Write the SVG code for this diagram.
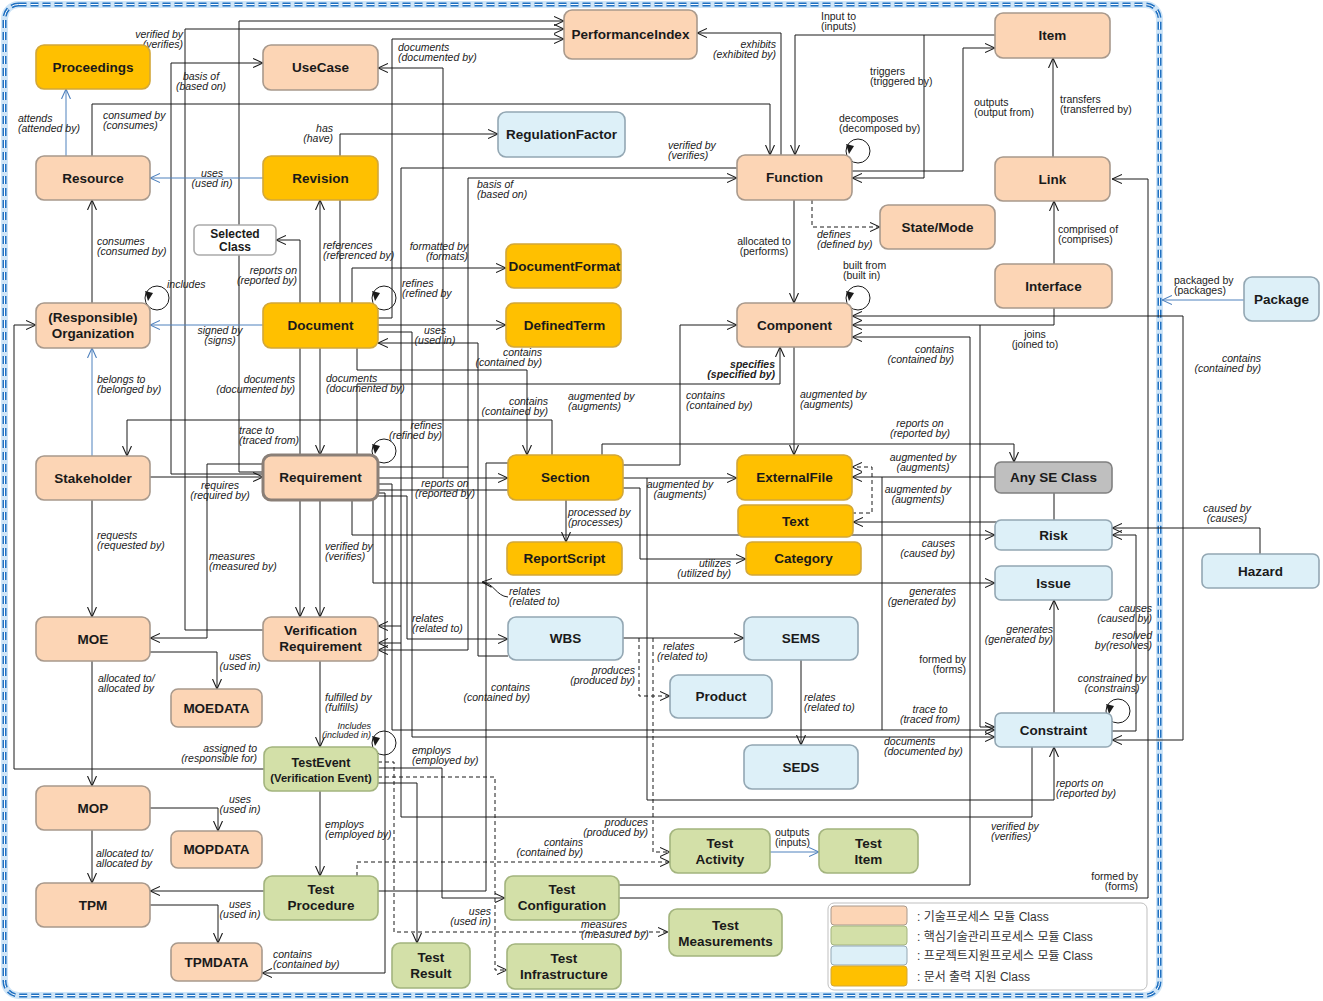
<svg xmlns="http://www.w3.org/2000/svg" width="1323" height="1001" viewBox="0 0 1323 1001">
<defs>
<marker id="a" viewBox="0 0 10 10" refX="10" refY="5" markerWidth="10" markerHeight="10" markerUnits="userSpaceOnUse" orient="auto-start-reverse"><path d="M0,0.5 L10,5 L0,9.5" fill="none" stroke="#1a1a1a" stroke-width="1.1"/></marker>
<marker id="ab" viewBox="0 0 10 10" refX="10" refY="5" markerWidth="10" markerHeight="10" markerUnits="userSpaceOnUse" orient="auto-start-reverse"><path d="M0,0.5 L10,5 L0,9.5" fill="none" stroke="#4F81BD" stroke-width="1.1"/></marker>
<style>
.c{fill:none;stroke:#1a1a1a;stroke-width:1}
.d{stroke-dasharray:4 3}
.b{stroke:#4F81BD}
.loop{fill:none;stroke:#1a1a1a;stroke-width:1}
.tri{fill:#1a1a1a}
.l{font-family:"Liberation Sans",Arial,sans-serif;font-size:10.5px;font-style:italic;fill:#222}
.ln{font-family:"Liberation Sans",Arial,sans-serif;font-size:10.5px;fill:#222}
.n rect{stroke-width:1.6}
.p rect{fill:#FCD5B5;stroke:#A8998C}
.g rect{fill:#FFC000;stroke:#D2A739}
.bl rect{fill:#DDF0F8;stroke:#93A7B3}
.gr rect{fill:#D3E0A8;stroke:#A3B47E}
.gy rect{fill:#BFBFBF;stroke:#808080}
.w rect{fill:#FFFFFF;stroke:#AAAAAA}
.n text{font-family:"Liberation Sans",Arial,sans-serif;font-weight:bold;font-size:13.5px;fill:#1a1a1a;text-anchor:middle}
.lg{font-family:"Liberation Sans","Noto Sans CJK KR",sans-serif;font-size:12px;fill:#333}
</style>
</defs>
<rect x="0" y="0" width="1323" height="1001" fill="#FFFFFF"/>
<g id="frame">
<rect x="4.5" y="4.5" width="1155" height="991" rx="14" fill="none" stroke="#CFE5F7" stroke-width="7"/>
<rect x="4.5" y="4.5" width="1155" height="991" rx="14" fill="none" stroke="#1F70C1" stroke-width="4" stroke-dasharray="8 4"/>
<rect x="4.5" y="4.5" width="1155" height="991" rx="14" fill="none" stroke="#FFFFFF" stroke-width="1" stroke-dasharray="8 4"/>
</g>
<g id="connectors">
<path class="c" d="M263,472H239V21H564" marker-end="url(#a)"/>
<path class="c" d="M263,630H185V29H564" marker-end="url(#a)"/>
<path class="c" d="M378,318H392V39H564" marker-end="url(#a)"/>
<path class="c" d="M443,478V68H378" marker-end="url(#a)"/>
<path class="c" d="M263,474H171V63H263" marker-end="url(#a)"/>
<path class="c" d="M92,156V104H770V155" marker-end="url(#a)"/>
<path class="c" d="M781,155V33H697" marker-end="url(#a)"/>
<path class="c" d="M995,35H795V155" marker-end="url(#a)"/>
<path class="c" d="M924,35V178H852" marker-end="url(#a)"/>
<path class="c" d="M852,171H963V48H995" marker-end="url(#a)"/>
<path class="c" d="M1053,157V58" marker-end="url(#a)"/>
<path class="c" d="M794,200V303" marker-end="url(#a)"/>
<path class="c d" d="M812,200V227H880" marker-end="url(#a)"/>
<path class="c" d="M1054,264V201" marker-end="url(#a)"/>
<path class="c" d="M1054,308V325H852" marker-end="url(#a)"/>
<path class="c" d="M1112,740H1183V316H852" marker-start="url(#a)" marker-end="url(#a)"/>
<path class="c" d="M619,898H1148V179H1112" marker-end="url(#a)"/>
<path class="c" d="M619,885H970V337H852" marker-end="url(#a)"/>
<path class="c" d="M980,325V727H995" marker-end="url(#a)"/>
<path class="c" d="M602,455V444H1014V462" marker-end="url(#a)"/>
<path class="c" d="M995,477H852" marker-end="url(#a)"/>
<path class="c d" d="M852,513H872V467H852" marker-end="url(#a)"/>
<path class="c" d="M1054,493V522H853" marker-end="url(#a)"/>
<path class="c" d="M352,500V535H995" marker-end="url(#a)"/>
<path class="c" d="M373,500V583H995" marker-end="url(#a)"/>
<path class="c" d="M1054,713V600" marker-end="url(#a)"/>
<path class="c" d="M1260,554V528H1112" marker-end="url(#a)"/>
<path class="c" d="M1112,731H1136V535H1112" marker-end="url(#a)"/>
<path class="c" d="M378,484H392V730H995" marker-end="url(#a)"/>
<path class="c" d="M378,332H412V737H995" marker-end="url(#a)"/>
<path class="c" d="M647,478V800H1054V747" marker-end="url(#a)"/>
<path class="c" d="M737,168H401V817H1032V747"/>
<path class="c" d="M401,626H378" marker-end="url(#a)"/>
<path class="c" d="M401,643H378" marker-end="url(#a)"/>
<path class="c" d="M378,650H468V178H737" marker-start="url(#a)" marker-end="url(#a)"/>
<path class="c" d="M378,467H468"/>
<path class="c" d="M508,656H478V343H378" marker-end="url(#a)"/>
<path class="c" d="M378,891H486V463H508"/>
<path class="c" d="M378,325H506" marker-end="url(#a)"/>
<path class="c" d="M352,303V268H506" marker-end="url(#a)"/>
<path class="c" d="M340,303V134H498" marker-end="url(#a)"/>
<path class="c" d="M320,303V200" marker-end="url(#a)"/>
<path class="c" d="M300,303V240H276" marker-end="url(#a)"/>
<path class="c" d="M357,348V370H527V455" marker-end="url(#a)"/>
<path class="c" d="M357,455V384H780V347" marker-end="url(#a)"/>
<path class="c" d="M320,348V455" marker-end="url(#a)"/>
<path class="c" d="M300,348V455"/>
<path class="c" d="M552,455V420H127V456" marker-end="url(#a)"/>
<path class="c" d="M263,464H207V638H150" marker-end="url(#a)"/>
<path class="c" d="M150,477H263" marker-end="url(#a)"/>
<path class="c" d="M92,500V617" marker-end="url(#a)"/>
<path class="c" d="M378,478H508" marker-end="url(#a)"/>
<path class="c" d="M378,490H508"/>
<path class="c" d="M566,500V542" marker-end="url(#a)"/>
<path class="c" d="M623,488H640V559H746" marker-end="url(#a)"/>
<path class="c" d="M623,465H680V325H737" marker-end="url(#a)"/>
<path class="c" d="M794,347V455" marker-end="url(#a)"/>
<path class="c" d="M623,478H737" marker-end="url(#a)"/>
<path class="c" d="M623,638H744" marker-end="url(#a)"/>
<path class="c d" d="M639,638V696H670" marker-end="url(#a)"/>
<path class="c d" d="M653,638V852H670" marker-end="url(#a)"/>
<path class="c" d="M801,660V745" marker-end="url(#a)"/>
<path class="c b" d="M770,852H819" marker-end="url(#ab)"/>
<path class="c" d="M378,768H442V898H505" marker-end="url(#a)"/>
<path class="c d" d="M378,777H495V970H507" marker-end="url(#a)"/>
<path class="c d" d="M378,762H394V932H668" marker-end="url(#a)"/>
<path class="c d" d="M357,876V862H670" marker-end="url(#a)"/>
<path class="c" d="M378,783H417V943" marker-end="url(#a)"/>
<path class="c" d="M320,791V876" marker-end="url(#a)"/>
<path class="c" d="M320,661V747" marker-end="url(#a)"/>
<path class="c" d="M300,500V617" marker-end="url(#a)"/>
<path class="c" d="M320,500V617" marker-end="url(#a)"/>
<path class="c" d="M264,891H150" marker-end="url(#a)"/>
<path class="c" d="M150,905H218V943" marker-end="url(#a)"/>
<path class="c" d="M150,808H218V831" marker-end="url(#a)"/>
<path class="c" d="M150,652H217V689" marker-end="url(#a)"/>
<path class="c" d="M92,661V786" marker-end="url(#a)"/>
<path class="c" d="M92,830V883" marker-end="url(#a)"/>
<path class="c" d="M264,769H14V325H36" marker-end="url(#a)"/>
<path class="c" d="M92,303V200" marker-end="url(#a)"/>
<path class="c b" d="M66,156V89" marker-end="url(#ab)"/>
<path class="c b" d="M263,178H150" marker-end="url(#ab)"/>
<path class="c b" d="M263,325H150" marker-end="url(#ab)"/>
<path class="c b" d="M92,456V348" marker-end="url(#ab)"/>
<path class="c b" d="M1244,300H1162" marker-end="url(#ab)"/>
<path class="c" d="M378,493H385V973H262" marker-end="url(#a)"/>
<path class="c" d="M378,496H407V639H508" marker-end="url(#a)"/>
<path class="c" d="M882,477V730"/>
<path class="c" d="M508,597C496,596 494,583 482,582" marker-end="url(#a)"/>
<circle class="loop" cx="157" cy="298" r="12"/><polygon class="tri" points="145,291 153,293 148,301"/>
<circle class="loop" cx="384" cy="298" r="12"/><polygon class="tri" points="372,291 380,293 375,301"/>
<circle class="loop" cx="858" cy="151" r="12"/><polygon class="tri" points="846,144 854,146 849,154"/>
<circle class="loop" cx="858" cy="298" r="12"/><polygon class="tri" points="846,291 854,293 849,301"/>
<circle class="loop" cx="384" cy="451" r="12"/><polygon class="tri" points="372,444 380,446 375,454"/>
<circle class="loop" cx="1118" cy="711" r="12"/><polygon class="tri" points="1106,704 1114,706 1109,714"/>
<circle class="loop" cx="384" cy="743" r="12"/><polygon class="tri" points="372,736 380,738 375,746"/>
</g>
<g id="labels">
<text class="l" x="183" y="38" text-anchor="end"><tspan x="183">verified by</tspan><tspan x="183" dy="10">(verifies)</tspan></text>
<text class="l" x="201" y="80" text-anchor="middle"><tspan x="201">basis of</tspan><tspan x="201" dy="10">(based on)</tspan></text>
<text class="l" x="18" y="122"><tspan x="18">attends</tspan><tspan x="18" dy="10">(attended by)</tspan></text>
<text class="l" x="103" y="119"><tspan x="103">consumed by</tspan><tspan x="103" dy="10">(consumes)</tspan></text>
<text class="l" x="333" y="132" text-anchor="end"><tspan x="333">has</tspan><tspan x="333" dy="10">(have)</tspan></text>
<text class="l" x="212" y="177" text-anchor="middle"><tspan x="212">uses</tspan><tspan x="212" dy="10">(used in)</tspan></text>
<text class="l" x="323" y="249"><tspan x="323">references</tspan><tspan x="323" dy="10">(referenced by)</tspan></text>
<text class="l" x="297" y="274" text-anchor="end"><tspan x="297">reports on</tspan><tspan x="297" dy="10">(reported by)</tspan></text>
<text class="l" x="97" y="245"><tspan x="97">consumes</tspan><tspan x="97" dy="10">(consumed by)</tspan></text>
<text class="l" x="167" y="288">includes</text>
<text class="l" x="468" y="250" text-anchor="end"><tspan x="468">formatted by</tspan><tspan x="468" dy="10">(formats)</tspan></text>
<text class="l" x="402" y="287"><tspan x="402">refines</tspan><tspan x="402" dy="10">(refined by</tspan></text>
<text class="l" x="220" y="334" text-anchor="middle"><tspan x="220">signed by</tspan><tspan x="220" dy="10">(signs)</tspan></text>
<text class="l" x="435" y="334" text-anchor="middle"><tspan x="435">uses</tspan><tspan x="435" dy="10">(used in)</tspan></text>
<text class="l" x="542" y="356" text-anchor="end"><tspan x="542">contains</tspan><tspan x="542" dy="10">(contained by)</tspan></text>
<text class="l" x="548" y="405" text-anchor="end"><tspan x="548">contains</tspan><tspan x="548" dy="10">(contained by)</tspan></text>
<text class="l" x="568" y="400"><tspan x="568">augmented by</tspan><tspan x="568" dy="10">(augments)</tspan></text>
<text class="l" x="686" y="399"><tspan x="686">contains</tspan><tspan x="686" dy="10">(contained by)</tspan></text>
<text class="l" x="775" y="368" text-anchor="end" style="font-weight:bold"><tspan x="775">specifies</tspan><tspan x="775" dy="10">(specified by)</tspan></text>
<text class="l" x="800" y="398"><tspan x="800">augmented by</tspan><tspan x="800" dy="10">(augments)</tspan></text>
<text class="l" x="97" y="383"><tspan x="97">belongs to</tspan><tspan x="97" dy="10">(belonged by)</tspan></text>
<text class="l" x="295" y="383" text-anchor="end"><tspan x="295">documents</tspan><tspan x="295" dy="10">(documented by)</tspan></text>
<text class="l" x="326" y="382"><tspan x="326">documents</tspan><tspan x="326" dy="10">(documented by)</tspan></text>
<text class="l" x="239" y="434"><tspan x="239">trace to</tspan><tspan x="239" dy="10">(traced from)</tspan></text>
<text class="l" x="442" y="429" text-anchor="end"><tspan x="442">refines</tspan><tspan x="442" dy="10">(refined by)</tspan></text>
<text class="l" x="220" y="489" text-anchor="middle"><tspan x="220">requires</tspan><tspan x="220" dy="10">(required by)</tspan></text>
<text class="l" x="445" y="487" text-anchor="middle"><tspan x="445">reports on</tspan><tspan x="445" dy="10">(reported by)</tspan></text>
<text class="l" x="97" y="539"><tspan x="97">requests</tspan><tspan x="97" dy="10">(requested by)</tspan></text>
<text class="l" x="209" y="560"><tspan x="209">measures</tspan><tspan x="209" dy="10">(measured by)</tspan></text>
<text class="l" x="325" y="550"><tspan x="325">verified by</tspan><tspan x="325" dy="10">(verifies)</tspan></text>
<text class="l" x="568" y="516"><tspan x="568">processed by</tspan><tspan x="568" dy="10">(processes)</tspan></text>
<text class="l" x="680" y="488" text-anchor="middle"><tspan x="680">augmented by</tspan><tspan x="680" dy="10">(augments)</tspan></text>
<text class="l" x="731" y="567" text-anchor="end"><tspan x="731">utilizes</tspan><tspan x="731" dy="10">(utilized by)</tspan></text>
<text class="l" x="509" y="595"><tspan x="509">relates</tspan><tspan x="509" dy="10">(related to)</tspan></text>
<text class="l" x="412" y="622"><tspan x="412">relates</tspan><tspan x="412" dy="10">(related to)</tspan></text>
<text class="l" x="657" y="650"><tspan x="663">relates</tspan><tspan x="657" dy="10">(related to)</tspan></text>
<text class="l" x="635" y="674" text-anchor="end"><tspan x="635">produces</tspan><tspan x="635" dy="10">(produced by)</tspan></text>
<text class="l" x="804" y="701"><tspan x="804">relates</tspan><tspan x="804" dy="10">(related to)</tspan></text>
<text class="l" x="530" y="691" text-anchor="end"><tspan x="530">contains</tspan><tspan x="530" dy="10">(contained by)</tspan></text>
<text class="l" x="240" y="660" text-anchor="middle"><tspan x="240">uses</tspan><tspan x="240" dy="10">(used in)</tspan></text>
<text class="l" x="98" y="682"><tspan x="98">allocated to/</tspan><tspan x="98" dy="10">allocated by</tspan></text>
<text class="l" x="325" y="701"><tspan x="325">fulfilled by</tspan><tspan x="325" dy="10">(fulfills)</tspan></text>
<text class="l" x="371" y="729" text-anchor="end" style="font-size:9px"><tspan x="371">Includes</tspan><tspan x="371" dy="9">(included in)</tspan></text>
<text class="l" x="257" y="752" text-anchor="end"><tspan x="257">assigned to</tspan><tspan x="257" dy="10">(responsible for)</tspan></text>
<text class="l" x="412" y="754"><tspan x="412">employs</tspan><tspan x="412" dy="10">(employed by)</tspan></text>
<text class="l" x="240" y="803" text-anchor="middle"><tspan x="240">uses</tspan><tspan x="240" dy="10">(used in)</tspan></text>
<text class="l" x="96" y="857"><tspan x="96">allocated to/</tspan><tspan x="96" dy="10">allocated by</tspan></text>
<text class="l" x="325" y="828"><tspan x="325">employs</tspan><tspan x="325" dy="10">(employed by)</tspan></text>
<text class="l" x="240" y="908" text-anchor="middle"><tspan x="240">uses</tspan><tspan x="240" dy="10">(used in)</tspan></text>
<text class="l" x="273" y="958"><tspan x="273">contains</tspan><tspan x="273" dy="10">(contained by)</tspan></text>
<text class="l" x="648" y="826" text-anchor="end"><tspan x="648">produces</tspan><tspan x="648" dy="10">(produced by)</tspan></text>
<text class="l" x="583" y="846" text-anchor="end"><tspan x="583">contains</tspan><tspan x="583" dy="10">(contained by)</tspan></text>
<text class="ln" x="775" y="836"><tspan x="775">outputs</tspan><tspan x="775" dy="10">(inputs)</tspan></text>
<text class="l" x="491" y="915" text-anchor="end"><tspan x="491">uses</tspan><tspan x="491" dy="10">(used in)</tspan></text>
<text class="l" x="581" y="928"><tspan x="581">measures</tspan><tspan x="581" dy="10">(measured by)</tspan></text>
<text class="l" x="920" y="427" text-anchor="middle"><tspan x="920">reports on</tspan><tspan x="920" dy="10">(reported by)</tspan></text>
<text class="l" x="923" y="461" text-anchor="middle"><tspan x="923">augmented by</tspan><tspan x="923" dy="10">(augments)</tspan></text>
<text class="l" x="918" y="493" text-anchor="middle"><tspan x="918">augmented by</tspan><tspan x="918" dy="10">(augments)</tspan></text>
<text class="l" x="955" y="547" text-anchor="end"><tspan x="955">causes</tspan><tspan x="955" dy="10">(caused by)</tspan></text>
<text class="l" x="956" y="595" text-anchor="end"><tspan x="956">generates</tspan><tspan x="956" dy="10">(generated by)</tspan></text>
<text class="l" x="1053" y="633" text-anchor="end"><tspan x="1053">generates</tspan><tspan x="1053" dy="10">(generated by)</tspan></text>
<text class="l" x="1227" y="512" text-anchor="middle"><tspan x="1227">caused  by</tspan><tspan x="1227" dy="10">(causes)</tspan></text>
<text class="l" x="1152" y="612" text-anchor="end"><tspan x="1152">causes</tspan><tspan x="1152" dy="10">(caused by)</tspan></text>
<text class="l" x="1152" y="639" text-anchor="end"><tspan x="1152">resolved</tspan><tspan x="1152" dy="10">by(resolves)</tspan></text>
<text class="ln" x="966" y="663" text-anchor="end"><tspan x="966">formed by</tspan><tspan x="966" dy="10">(forms)</tspan></text>
<text class="l" x="1112" y="682" text-anchor="middle"><tspan x="1112">constrained by</tspan><tspan x="1112" dy="10">(constrains)</tspan></text>
<text class="l" x="930" y="713" text-anchor="middle"><tspan x="930">trace to</tspan><tspan x="930" dy="10">(traced from)</tspan></text>
<text class="l" x="884" y="745"><tspan x="884">documents</tspan><tspan x="884" dy="10">(documented by)</tspan></text>
<text class="l" x="1056" y="787"><tspan x="1056">reports on</tspan><tspan x="1056" dy="10">(reported by)</tspan></text>
<text class="l" x="991" y="830"><tspan x="991">verified by</tspan><tspan x="991" dy="10">(verifies)</tspan></text>
<text class="ln" x="1138" y="880" text-anchor="end"><tspan x="1138">formed by</tspan><tspan x="1138" dy="10">(forms)</tspan></text>
<text class="l" x="954" y="353" text-anchor="end"><tspan x="954">contains</tspan><tspan x="954" dy="10">(contained by)</tspan></text>
<text class="l" x="1261" y="362" text-anchor="end"><tspan x="1261">contains</tspan><tspan x="1261" dy="10">(contained by)</tspan></text>
<text class="ln" x="1035" y="338" text-anchor="middle"><tspan x="1035">joins</tspan><tspan x="1035" dy="10">(joined to)</tspan></text>
<text class="ln" x="1174" y="284"><tspan x="1174">packaged by</tspan><tspan x="1174" dy="10">(packages)</tspan></text>
<text class="ln" x="1058" y="233"><tspan x="1058">comprised of</tspan><tspan x="1058" dy="10">(comprises)</tspan></text>
<text class="ln" x="1060" y="103"><tspan x="1060">transfers</tspan><tspan x="1060" dy="10">(transferred by)</tspan></text>
<text class="ln" x="974" y="106"><tspan x="974">outputs</tspan><tspan x="974" dy="10">(output from)</tspan></text>
<text class="ln" x="870" y="75"><tspan x="870">triggers</tspan><tspan x="870" dy="10">(triggered by)</tspan></text>
<text class="ln" x="839" y="122"><tspan x="839">decomposes</tspan><tspan x="839" dy="10">(decomposed by)</tspan></text>
<text class="ln" x="821" y="20"><tspan x="821">Input to</tspan><tspan x="821" dy="10">(inputs)</tspan></text>
<text class="l" x="776" y="48" text-anchor="end"><tspan x="776">exhibits</tspan><tspan x="776" dy="10">(exhibited by)</tspan></text>
<text class="l" x="668" y="149"><tspan x="668">verified by</tspan><tspan x="668" dy="10">(verifies)</tspan></text>
<text class="l" x="477" y="188"><tspan x="477">basis of</tspan><tspan x="477" dy="10">(based on)</tspan></text>
<text class="ln" x="764" y="245" text-anchor="middle"><tspan x="764">allocated to</tspan><tspan x="764" dy="10">(performs)</tspan></text>
<text class="l" x="817" y="238"><tspan x="817">defines</tspan><tspan x="817" dy="10">(defined by)</tspan></text>
<text class="ln" x="843" y="269"><tspan x="843">built  from</tspan><tspan x="843" dy="10">(built in)</tspan></text>
<text class="l" x="398" y="51"><tspan x="398">documents</tspan><tspan x="398" dy="10">(documented by)</tspan></text>
</g>
<g id="n-proceedings" class="n g"><rect x="36" y="45" width="114" height="44" rx="8"/><text x="93" y="72">Proceedings</text></g>
<g id="n-usecase" class="n p"><rect x="263" y="45" width="115" height="45" rx="8"/><text x="320.5" y="72">UseCase</text></g>
<g id="n-performanceindex" class="n p"><rect x="564" y="10" width="133" height="49" rx="8"/><text x="630.5" y="39">PerformanceIndex</text></g>
<g id="n-item" class="n p"><rect x="995" y="13" width="115" height="45" rx="8"/><text x="1052.5" y="40">Item</text></g>
<g id="n-regulationfactor" class="n bl"><rect x="498" y="112" width="127" height="45" rx="8"/><text x="561.5" y="139">RegulationFactor</text></g>
<g id="n-resource" class="n p"><rect x="36" y="156" width="114" height="44" rx="8"/><text x="93" y="183">Resource</text></g>
<g id="n-revision" class="n g"><rect x="263" y="156" width="115" height="44" rx="8"/><text x="320.5" y="183">Revision</text></g>
<g id="n-function" class="n p"><rect x="737" y="155" width="115" height="45" rx="8"/><text x="794.5" y="182">Function</text></g>
<g id="n-link" class="n p"><rect x="995" y="157" width="115" height="44" rx="8"/><text x="1052.5" y="184">Link</text></g>
<g id="n-statemode" class="n p"><rect x="880" y="205" width="115" height="44" rx="8"/><text x="937.5" y="232">State/Mode</text></g>
<g id="n-selectedclass" class="n w"><rect x="194" y="225" width="82" height="30" rx="5"/><text x="235" y="238" style="font-size:12px">Selected</text><text x="235" y="251" style="font-size:12px">Class</text></g>
<g id="n-documentformat" class="n g"><rect x="506" y="244" width="115" height="44" rx="8"/><text x="564.5" y="271">DocumentFormat</text></g>
<g id="n-interface" class="n p"><rect x="995" y="264" width="117" height="44" rx="8"/><text x="1053.5" y="291">Interface</text></g>
<g id="n-package" class="n bl"><rect x="1244" y="277" width="75" height="44" rx="8"/><text x="1281.5" y="304">Package</text></g>
<g id="n-organization" class="n p"><rect x="36" y="303" width="114" height="45" rx="8"/><text x="93" y="322">(Responsible)</text><text x="93" y="338">Organization</text></g>
<g id="n-document" class="n g"><rect x="263" y="303" width="115" height="45" rx="8"/><text x="320.5" y="330">Document</text></g>
<g id="n-definedterm" class="n g"><rect x="506" y="303" width="115" height="44" rx="8"/><text x="564.5" y="330">DefinedTerm</text></g>
<g id="n-component" class="n p"><rect x="737" y="303" width="115" height="44" rx="8"/><text x="794.5" y="330">Component</text></g>
<g id="n-stakeholder" class="n p"><rect x="36" y="456" width="114" height="44" rx="8"/><text x="93" y="483">Stakeholder</text></g>
<g id="n-requirement" class="n p"><rect x="263" y="455" width="115" height="45" rx="8" style="stroke:#8A7F77;stroke-width:3"/><text x="320.5" y="482">Requirement</text></g>
<g id="n-section" class="n g"><rect x="508" y="455" width="115" height="45" rx="8"/><text x="565.5" y="482">Section</text></g>
<g id="n-externalfile" class="n g"><rect x="737" y="455" width="115" height="45" rx="8"/><text x="794.5" y="482">ExternalFile</text></g>
<g id="n-anyseclass" class="n gy"><rect x="995" y="462" width="117" height="31" rx="6"/><text x="1053.5" y="482">Any  SE Class</text></g>
<g id="n-text" class="n g"><rect x="738" y="505" width="115" height="32" rx="6"/><text x="795.5" y="526">Text</text></g>
<g id="n-risk" class="n bl"><rect x="995" y="520" width="117" height="30" rx="6"/><text x="1053.5" y="540">Risk</text></g>
<g id="n-reportscript" class="n g"><rect x="507" y="542" width="115" height="33" rx="6"/><text x="564.5" y="563">ReportScript</text></g>
<g id="n-category" class="n g"><rect x="746" y="542" width="115" height="33" rx="6"/><text x="803.5" y="563">Category</text></g>
<g id="n-hazard" class="n bl"><rect x="1202" y="554" width="117" height="34" rx="6"/><text x="1260.5" y="576">Hazard</text></g>
<g id="n-issue" class="n bl"><rect x="995" y="566" width="117" height="34" rx="6"/><text x="1053.5" y="588">Issue</text></g>
<g id="n-moe" class="n p"><rect x="36" y="617" width="114" height="44" rx="8"/><text x="93" y="644">MOE</text></g>
<g id="n-verificationrequirement" class="n p"><rect x="263" y="617" width="115" height="44" rx="8"/><text x="320.5" y="635">Verification</text><text x="320.5" y="651">Requirement</text></g>
<g id="n-wbs" class="n bl"><rect x="508" y="617" width="115" height="43" rx="8"/><text x="565.5" y="643">WBS</text></g>
<g id="n-sems" class="n bl"><rect x="744" y="617" width="114" height="43" rx="8"/><text x="801" y="643">SEMS</text></g>
<g id="n-product" class="n bl"><rect x="670" y="675" width="102" height="43" rx="8"/><text x="721" y="701">Product</text></g>
<g id="n-moedata" class="n p"><rect x="171" y="689" width="91" height="38" rx="7"/><text x="216.5" y="713">MOEDATA</text></g>
<g id="n-constraint" class="n bl"><rect x="995" y="713" width="117" height="34" rx="6"/><text x="1053.5" y="735">Constraint</text></g>
<g id="n-seds" class="n bl"><rect x="744" y="745" width="114" height="44" rx="8"/><text x="801" y="772">SEDS</text></g>
<g id="n-testevent" class="n gr"><rect x="264" y="747" width="114" height="44" rx="8"/><text x="321" y="767" style="font-size:12.5px">TestEvent</text><text x="321" y="782" style="font-size:11.2px">(Verification Event)</text></g>
<g id="n-mop" class="n p"><rect x="36" y="786" width="114" height="44" rx="8"/><text x="93" y="813">MOP</text></g>
<g id="n-mopdata" class="n p"><rect x="171" y="831" width="91" height="37" rx="7"/><text x="216.5" y="854">MOPDATA</text></g>
<g id="n-testactivity" class="n gr"><rect x="670" y="829" width="100" height="44" rx="8"/><text x="720" y="848">Test</text><text x="720" y="864">Activity</text></g>
<g id="n-testitem" class="n gr"><rect x="819" y="829" width="99" height="44" rx="8"/><text x="868.5" y="848">Test</text><text x="868.5" y="864">Item</text></g>
<g id="n-tpm" class="n p"><rect x="36" y="883" width="114" height="44" rx="8"/><text x="93" y="910">TPM</text></g>
<g id="n-testprocedure" class="n gr"><rect x="264" y="876" width="114" height="44" rx="8"/><text x="321" y="894">Test</text><text x="321" y="910">Procedure</text></g>
<g id="n-testconfiguration" class="n gr"><rect x="505" y="876" width="114" height="44" rx="8"/><text x="562" y="894">Test</text><text x="562" y="910">Configuration</text></g>
<g id="n-testmeasurements" class="n gr"><rect x="669" y="909" width="113" height="47" rx="8"/><text x="725.5" y="930">Test</text><text x="725.5" y="946">Measurements</text></g>
<g id="n-tpmdata" class="n p"><rect x="171" y="943" width="91" height="38" rx="7"/><text x="216.5" y="967">TPMDATA</text></g>
<g id="n-testresult" class="n gr"><rect x="392" y="943" width="78" height="45" rx="8"/><text x="431" y="962">Test</text><text x="431" y="978">Result</text></g>
<g id="n-testinfrastructure" class="n gr"><rect x="507" y="944" width="114" height="45" rx="8"/><text x="564" y="963">Test</text><text x="564" y="979">Infrastructure</text></g>
<g id="legend">
<rect x="828" y="903" width="319" height="87" rx="6" fill="#FFFFFF" stroke="#BFBFBF" stroke-width="1"/>
<rect x="831" y="906" width="76" height="19" rx="3" fill="#FCD5B5" stroke="#A8998C"/>
<rect x="831" y="926" width="76" height="19" rx="3" fill="#D3E0A8" stroke="#A3B47E"/>
<rect x="831" y="946" width="76" height="19" rx="3" fill="#DDF0F8" stroke="#93A7B3"/>
<rect x="831" y="966" width="76" height="20" rx="3" fill="#FFC000" stroke="#D2A739"/>
<text class="lg" x="917" y="921">: 기술프로세스 모듈 Class</text>
<text class="lg" x="917" y="941">: 핵심기술관리프로세스 모듈 Class</text>
<text class="lg" x="917" y="960">: 프로젝트지원프로세스 모듈 Class</text>
<text class="lg" x="917" y="981">: 문서 출력 지원 Class</text>
</g>
</svg>
